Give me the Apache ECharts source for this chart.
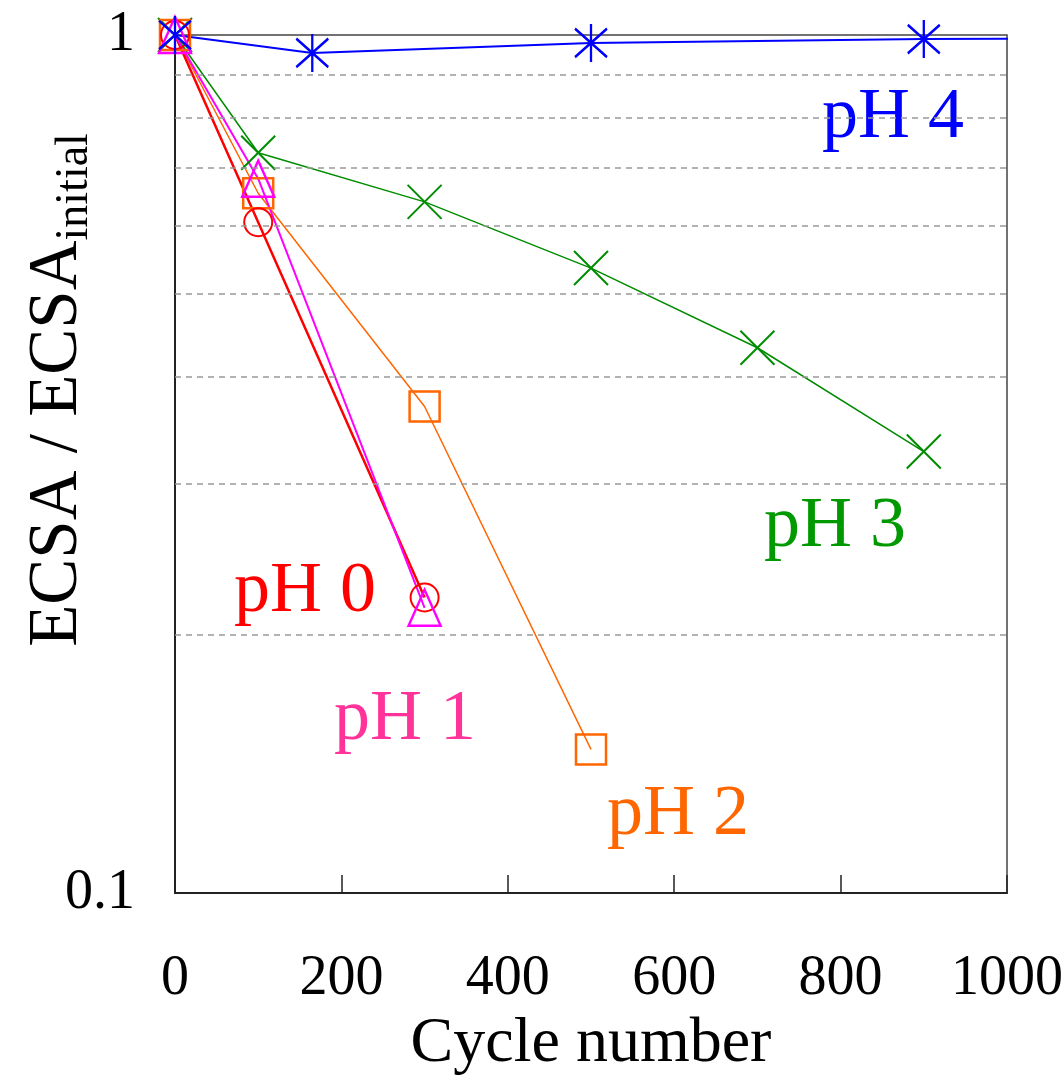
<!DOCTYPE html>
<html>
<head>
<meta charset="utf-8">
<script src="https://cdn.jsdelivr.net/npm/echarts@6/dist/echarts.min.js"></script>
<style>
  html, body { margin: 0; padding: 0; background: #fff; }
  #chart { width: 1064px; height: 1079px; }
</style>
</head>
<body>
<div id="chart"></div>
<script>
// ECSA retention versus potential-cycling count at different pH values
const xTicks = [0, 200, 400, 600, 800, 1000];
const yTickLabels = ['0.1', '1'];
const gridLevels = [0.2, 0.3, 0.4, 0.5, 0.6, 0.7, 0.8, 0.9];

const ph0Cycles = [0, 100, 300];
const ph0Ratio  = [1, 0.605, 0.221];

const ph1Cycles = [0, 100, 300];
const ph1Ratio  = [1, 0.68, 0.215];

const ph2Cycles = [0, 100, 300, 500];
const ph2Ratio  = [1, 0.654, 0.369, 0.147];

const ph3Cycles = [0, 100, 300, 500, 700, 900];
const ph3Ratio  = [1, 0.729, 0.639, 0.535, 0.432, 0.327];

const ph4Cycles = [0, 165, 500, 900, 1025];
const ph4Ratio  = [1, 0.953, 0.979, 0.989, 0.99];

const seriesLabels = ['pH 0', 'pH 1', 'pH 2', 'pH 3', 'pH 4'];

const FONT = '"Liberation Serif", "Times New Roman", serif';

const CROSS = 'path://M0,0L10,10M10,0L0,10';
const ASTERISK = 'path://M5,0L5,12M0.5,1.5L9.5,10.5M9.5,1.5L0.5,10.5';

function pairs(xs, ys) {
  return xs.map((x, i) => [x, ys[i]]);
}

function outlined(color, width) {
  return { color: 'rgba(0,0,0,0)', borderColor: color, borderWidth: width };
}

const chart = echarts.init(document.getElementById('chart'), null, { renderer: 'canvas' });

// pH 4 trace runs a little past the right frame; its last point carries no marker
const ph4Data = pairs(ph4Cycles, ph4Ratio).map((p, i) =>
  i === ph4Cycles.length - 1 ? { value: p, symbol: 'none' } : p);

// Series names placed beside their curves
const labelSpots = [
  { text: seriesLabels[0], color: '#ff0000', x: 305, y: 592 },
  { text: seriesLabels[1], color: '#ff3399', x: 405, y: 720 },
  { text: seriesLabels[2], color: '#ff6600', x: 678, y: 815 },
  { text: seriesLabels[3], color: '#009900', x: 835, y: 527 },
  { text: seriesLabels[4], color: '#0000ff', x: 893, y: 118 }
];

const graphics = labelSpots.map(l => ({
  type: 'text', x: l.x, y: l.y, silent: true,
  style: {
    text: l.text, fill: l.color, font: '72px ' + FONT,
    textAlign: 'center', textVerticalAlign: 'middle'
  }
}));

// Vertical axis title with subscript
graphics.push({
  type: 'text', x: 58, y: 390, rotation: Math.PI / 2, silent: true,
  style: {
    text: '{a|ECSA / ECSA}{b|initial}',
    textAlign: 'center', textVerticalAlign: 'middle',
    rich: {
      a: { fontFamily: FONT, fontSize: 69, fill: '#000', lineHeight: 80 },
      b: { fontFamily: FONT, fontSize: 46, fill: '#000', verticalAlign: 'bottom', lineHeight: 80, padding: [22, 0, 0, 0] }
    }
  }
});

chart.setOption({
  animation: false,
  backgroundColor: '#fff',
  grid: {
    left: 175, right: 57, top: 35, bottom: 186,
    containLabel: false, outerBoundsMode: 'none',
    show: true, borderColor: '#444', borderWidth: 1.5, backgroundColor: 'transparent'
  },
  xAxis: {
    type: 'value', min: 0, max: 1000, interval: 200,
    name: 'Cycle number', nameLocation: 'middle', nameGap: 106,
    nameTextStyle: { fontFamily: FONT, fontSize: 64, color: '#000' },
    axisLine: { lineStyle: { color: '#222', width: 2 } },
    axisTick: { inside: true, length: 18, lineStyle: { color: '#222', width: 1.5 } },
    axisLabel: {
      fontFamily: FONT, fontSize: 56, color: '#000', margin: 58,
      formatter: v => (xTicks.includes(v) ? String(v) : '')
    },
    splitLine: { show: false }
  },
  yAxis: {
    type: 'log', logBase: 10, min: 0.1, max: 1,
    axisLine: { lineStyle: { color: '#222', width: 2 } },
    axisTick: { show: false },
    axisLabel: {
      fontFamily: FONT, fontSize: 56, color: '#000', margin: 40,
      formatter: v => (v < 0.5 ? yTickLabels[0] : yTickLabels[1])
    },
    splitLine: { show: false }
  },
  series: [
    {
      // dashed reference levels
      type: 'line', data: [], silent: true,
      markLine: {
        silent: true, symbol: 'none', label: { show: false },
        lineStyle: { type: [6, 5], color: '#999', width: 1.5 },
        data: gridLevels.map(v => ({ yAxis: v }))
      }
    },
    {
      name: seriesLabels[3], type: 'line', data: pairs(ph3Cycles, ph3Ratio),
      symbol: CROSS, symbolSize: 34,
      lineStyle: { color: '#008c00', width: 1.5 },
      itemStyle: outlined('#008c00', 2)
    },
    {
      name: seriesLabels[2], type: 'line', data: pairs(ph2Cycles, ph2Ratio),
      symbol: 'rect', symbolSize: 30,
      lineStyle: { color: '#ff6600', width: 1.5 },
      itemStyle: outlined('#ff6600', 2.5)
    },
    {
      name: seriesLabels[0], type: 'line', data: pairs(ph0Cycles, ph0Ratio),
      symbol: 'circle', symbolSize: 28,
      lineStyle: { color: '#ff0000', width: 2.5 },
      itemStyle: outlined('#ff0000', 2)
    },
    {
      name: seriesLabels[1], type: 'line', data: pairs(ph1Cycles, ph1Ratio),
      symbol: 'triangle', symbolSize: [32, 36],
      lineStyle: { color: '#ff00ff', width: 2 },
      itemStyle: outlined('#ff00ff', 2.5)
    },
    {
      name: seriesLabels[4], type: 'line', data: ph4Data, clip: false,
      symbol: ASTERISK, symbolSize: [32, 38],
      lineStyle: { color: '#0000ff', width: 2 },
      itemStyle: outlined('#0000ff', 2.5)
    }
  ],
  graphic: graphics
});
</script>
</body>
</html>
